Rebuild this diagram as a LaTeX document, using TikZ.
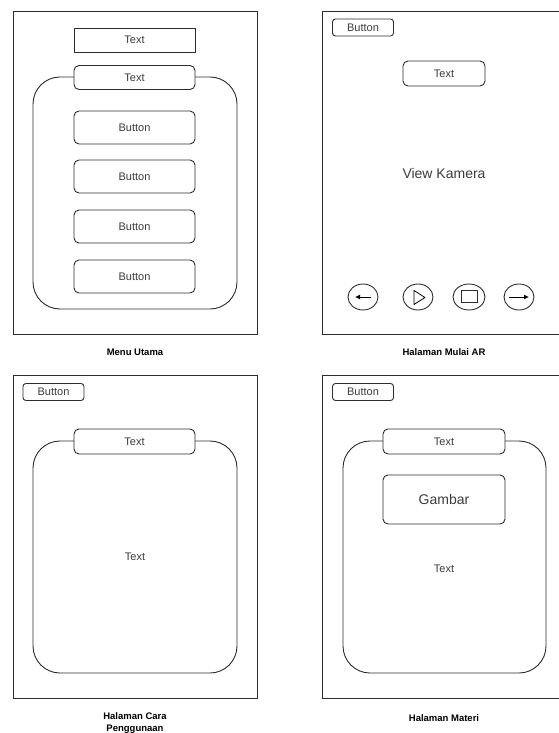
\documentclass[tikz,border=0pt]{standalone}
\usepackage{fontspec}
\setmainfont{Liberation Sans}
\usetikzlibrary{arrows.meta,shapes.geometric}
\definecolor{FrameLine}{RGB}{45,45,45}
\definecolor{WireText}{RGB}{60,60,60}

\tikzset{
  screen/.style={draw=FrameLine,line width=0.9pt,inner sep=0pt,
                 minimum width=244pt,minimum height=323pt},
  textbox/.style={draw=FrameLine,line width=0.9pt,fill=white,inner sep=0pt,
                  minimum width=121pt,minimum height=24pt,text=WireText,
                  font=\fontsize{11}{13}\selectfont},
  btnbox/.style={textbox,rounded corners=5pt},
  smallbtn/.style={btnbox,rounded corners=3pt,minimum width=61pt,minimum height=17pt},
  panel/.style={draw=FrameLine,line width=0.9pt,rounded corners=27pt,
                minimum width=204pt,minimum height=232pt},
  plaintext/.style={text=WireText,font=\fontsize{11}{13}\selectfont},
  iconbtn/.style={ellipse,draw=FrameLine,line width=0.9pt,inner sep=0pt,
                  minimum width=30pt,minimum height=26pt},
  caption/.style={align=center,font=\fontsize{9.5}{12}\selectfont\bfseries}
}

\begin{document}
\begin{tikzpicture}[x=1pt,y=-1pt]
  \useasboundingbox (0,0) rectangle (559,733);

  % Menu Utama
  \node[screen] (menu) at (135,172.5) {};
  \node[textbox] (menuTitle) at (134.5,40) {Text};
  \node[panel] (menuPanel) at (135,193) {};
  \node[btnbox] (menuHead) at (134.5,77.5) {Text};
  \foreach \y [count=\i] in {127.5,176.5,226.5,276.5}
    \node[btnbox,minimum height=33pt] (menuBtn\i) at (134.5,\y) {Button};
  \node[caption] (menuCap) at (135,352) {Menu Utama};

  % Halaman Mulai AR
  \node[screen,minimum width=239pt] (ar) at (441.5,172.5) {};
  \node[smallbtn] (arBack) at (363,27.5) {Button};
  \node[btnbox,minimum width=82pt,minimum height=25pt] (arHead) at (444,73.5) {Text};
  \node[text=WireText,font=\fontsize{14}{16}\selectfont] (arView) at (444,173) {View Kamera};
  \node[iconbtn] (arPrev) at (363,297) {};
  \node[iconbtn] (arPlay) at (418,297) {};
  \node[iconbtn,minimum width=32pt] (arStop) at (469,297) {};
  \node[iconbtn] (arNext) at (519,297) {};
  \draw[line width=0.9pt,-{Latex[length=5pt,width=5pt]}]
    ([xshift=8pt]arPrev.center) -- ([xshift=-8pt]arPrev.center);
  \draw[line width=0.9pt,-{Latex[length=5pt,width=5pt]}]
    ([xshift=-10pt]arNext.center) -- ([xshift=10pt]arNext.center);
  \draw[line width=0.8pt,line join=round] (arPlay.center) ++(-4,-6.5) -- ++(0,14) -- ++(11,-7) -- cycle;
  \node[draw=FrameLine,line width=0.8pt,inner sep=0pt,minimum width=16pt,minimum height=12pt]
    (arSquare) at ([yshift=1pt]arStop.center) {};
  \node[caption] (arCap) at (444,352) {Halaman Mulai AR};

  % Halaman Cara Penggunaan
  \node[screen] (guide) at (135,536.5) {};
  \node[smallbtn] (guideBack) at (53.5,392) {Button};
  \node[panel] (guidePanel) at (135,557) {};
  \node[btnbox,minimum height=25pt] (guideHead) at (134.5,441.5) {Text};
  \node[plaintext] (guideBody) at (135,557) {Text};
  \node[caption,anchor=north,inner sep=0pt] (guideCap) at (135,712) {Halaman Cara\\Penggunaan};

  % Halaman Materi
  \node[screen,minimum width=239pt] (materi) at (441.5,536.5) {};
  \node[smallbtn] (materiBack) at (363,392) {Button};
  \node[panel,minimum width=203pt] (materiPanel) at (444.5,557) {};
  \node[btnbox,minimum width=122pt,minimum height=25pt] (materiHead) at (444,441.5) {Text};
  \node[btnbox,minimum width=122pt,minimum height=49pt,font=\fontsize{14}{16}\selectfont]
    (materiImg) at (444,499.5) {Gambar};
  \node[plaintext] (materiBody) at (444,569) {Text};
  \node[caption] (materiCap) at (444,718) {Halaman Materi};
\end{tikzpicture}
\end{document}
